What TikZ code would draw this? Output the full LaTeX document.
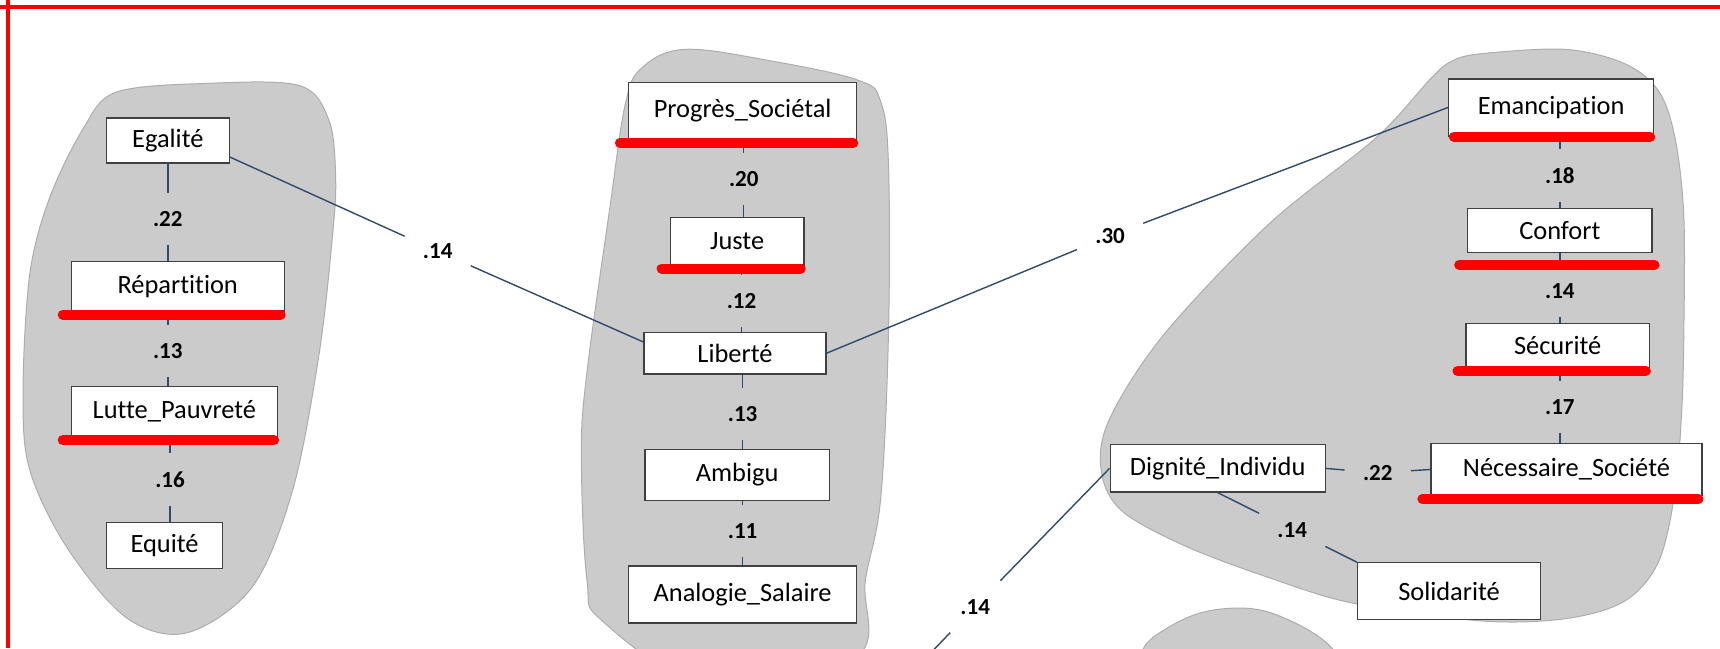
\documentclass[tikz,border=0pt]{standalone}
\usepackage{fontspec}
\setmainfont{Carlito}[Ligatures=NoCommon]
\definecolor{edgeblue}{HTML}{2F4A6D}
\definecolor{blobgray}{HTML}{CBCBCB}
\definecolor{blobline}{HTML}{ADADAD}
\begin{document}
\begin{tikzpicture}[x=0.5485pt,y=-0.5485pt,
  box/.style={draw=black!75,fill=white,line width=0.6pt,inner sep=2pt,font=\fontsize{13.2}{15}\selectfont},
  wt/.style={inner sep=9pt,font=\fontsize{11.5}{13}\selectfont\bfseries},
  edge/.style={draw=edgeblue,line width=0.7pt},
  blob/.style={fill=blobgray,draw=blobline,line width=0.5pt},
  redline/.style={draw=red,line width=5pt,line cap=round}]
  \useasboundingbox (0,0) rectangle (1568,591);
  \clip (0,0) rectangle (1568,591);
  % clusters
  \draw[blob] plot[smooth cycle,tension=0.55] coordinates {(106,84) (189,76) (273,78) (300,110) (306,163) (303,216) (291,322) (267,446) (230,535) (170,577) (115,563) (61,499) (27,428) (21,358) (27,251) (45,181) (76,117)};
  \draw[blob] plot[smooth cycle,tension=0.6] coordinates {(624,45) (700,55) (782,73) (803,93) (810,152) (810,302) (803,453) (789,528) (779,600) (640,620) (549,566) (535,528) (530,415) (535,340) (556,189) (570,95) (585,62)};
  \draw[blob] plot[smooth cycle,tension=0.55] coordinates {(1350,49) (1427,45) (1481,58) (1512,83) (1527,126) (1535,197) (1535,305) (1533,376) (1527,448) (1512,512) (1481,548) (1427,564) (1350,566) (1234,550) (1158,527) (1081,498) (1023,466) (1004,430) (1011,383) (1061,305) (1157,204) (1254,126) (1304,72) (1323,56)};
  \draw[blob] plot[smooth cycle,tension=0.7] coordinates {(1040,600) (1065,572) (1115,555) (1170,563) (1220,600) (1200,640) (1060,640)};
  % frame
  \draw[red,line width=2pt] (0,6) -- (1568,6);
  \draw[red,line width=2pt] (7,0) -- (7,591);
  % boxes
  \node[box,minimum width=61.4pt,minimum height=22.5pt] (egalite) at (153,128) {Egalité};
  \node[box,minimum width=106.4pt,minimum height=24.7pt] (repartition) at (162,261) {Répartition};
  \node[box,minimum width=103.1pt,minimum height=25.2pt] (lutte) at (159,375) {Lutte\_Pauvreté};
  \node[box,minimum width=58.1pt,minimum height=23pt] (equite) at (150,497) {Equité};
  \node[box,minimum width=114.1pt,minimum height=28.5pt] (progres) at (677,101) {Progrès\_Sociétal};
  \node[box,minimum width=66.9pt,minimum height=23.6pt] (juste) at (672,220) {Juste};
  \node[box,minimum width=91pt,minimum height=20.8pt] (liberte) at (670,322) {Liberté};
  \node[box,minimum width=92.1pt,minimum height=25.2pt] (ambigu) at (672,433) {Ambigu};
  \node[box,minimum width=114.1pt,minimum height=28.5pt] (analogie) at (677,542) {Analogie\_Salaire};
  \node[box,minimum width=102.6pt,minimum height=28.5pt] (emancipation) at (1414,98) {Emancipation};
  \node[box,minimum width=92.1pt,minimum height=21.9pt] (confort) at (1422,210) {Confort};
  \node[box,minimum width=91.6pt,minimum height=21.9pt] (securite) at (1420,315) {Sécurité};
  \node[box,minimum width=135.5pt,minimum height=25.8pt] (necessaire) at (1428,428) {Nécessaire\_Société};
  \node[box,minimum width=107.5pt,minimum height=23.6pt] (dignite) at (1110,427) {Dignité\_Individu};
  \node[box,minimum width=91.6pt,minimum height=28.5pt] (solidarite) at (1321,539) {Solidarité};
  % weights
  \node[wt] (w1) at (153,200) {.22};
  \node[wt] (w2) at (153,320) {.13};
  \node[wt] (w3) at (155,437) {.16};
  \node[wt] (w4) at (399,229) {.14};
  \node[wt] (w5) at (678,163) {.20};
  \node[wt] (w6) at (676,274) {.12};
  \node[wt] (w7) at (677,377) {.13};
  \node[wt] (w8) at (677,484) {.11};
  \node[wt] (w9) at (1012,215) {.30};
  \node[wt] (w10) at (1422,160) {.18};
  \node[wt] (w11) at (1422,265) {.14};
  \node[wt] (w12) at (1422,371) {.17};
  \node[wt] (w13) at (1256,431) {.22};
  \node[wt] (w14) at (1178,483) {.14};
  \node[wt] (w15) at (889,553) {.14};
  \coordinate (offpage) at (815,630);
  % links
  \draw[edge] (w1 |- egalite.south) -- (w1) -- (w1 |- repartition.north);
  \draw[edge] (w2 |- repartition.south) -- (w2) -- (w2 |- lutte.north);
  \draw[edge] (w3 |- lutte.south) -- (w3) -- (w3 |- equite.north);
  \draw[edge] (egalite.-15) -- (w4) -- (liberte.173);
  \draw[edge] (w5 |- progres.south) -- (w5) -- (w5 |- juste.north);
  \draw[edge] (w6 |- juste.south) -- (w6) -- (w6 |- liberte.north);
  \draw[edge] (w7 |- liberte.south) -- (w7) -- (w7 |- ambigu.north);
  \draw[edge] (w8 |- ambigu.south) -- (w8) -- (w8 |- analogie.north);
  \draw[edge] (liberte.east) -- (w9) -- (emancipation.west);
  \draw[edge] (w10 |- emancipation.south) -- (w10) -- (w10 |- confort.north);
  \draw[edge] (w11 |- confort.south) -- (w11) -- (w11 |- securite.north);
  \draw[edge] (w12 |- securite.south) -- (w12) -- (w12 |- necessaire.north);
  \draw[edge] (dignite.east) -- (w13) -- (necessaire.west);
  \draw[edge] (dignite.south) -- (w14) -- (solidarite.north west);
  \draw[edge] (dignite.west) -- (w15) -- (offpage);
  % underlines
  \foreach \n in {repartition,lutte,progres,juste,securite,necessaire}
    \draw[redline] ([xshift=-4pt,yshift=-1.5pt]\n.south west) -- ([xshift=-2pt,yshift=-1.5pt]\n.south east);
  \draw[redline] ([xshift=3pt,yshift=0pt]emancipation.south west) -- ([xshift=-2pt,yshift=0pt]emancipation.south east);
  \draw[redline] ([xshift=-4pt,yshift=-6pt]confort.south west) -- ([xshift=1pt,yshift=-6pt]confort.south east);
\end{tikzpicture}
\end{document}
